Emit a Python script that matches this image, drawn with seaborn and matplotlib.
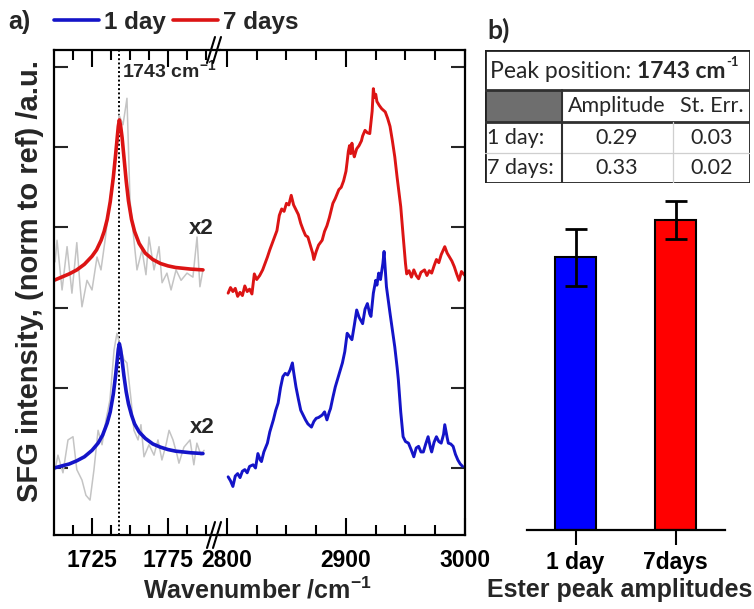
import numpy as np
import pandas as pd
import matplotlib
matplotlib.use("Agg")
import matplotlib.pyplot as plt
from matplotlib.lines import Line2D
from matplotlib.patches import Rectangle
import seaborn as sns

# ---------------- data ----------------
# C=O region (left segment): fitted curves
fit_wn_7days = [1700, 1705, 1710, 1715, 1720, 1725, 1728, 1731, 1733, 1735, 1737, 1739,
                1740.5, 1741.5, 1742.3, 1743, 1743.8, 1744.8, 1746, 1747.5, 1749, 1751,
                1753, 1756, 1760, 1765, 1770, 1775, 1780, 1790, 1798]
fit_7days = [2.34, 2.38, 2.42, 2.47, 2.54, 2.64, 2.72, 2.84, 2.95, 3.10, 3.32, 3.62,
             3.90, 4.10, 4.26, 4.34, 4.27, 4.12, 3.88, 3.58, 3.33, 3.10,
             2.95, 2.80, 2.68, 2.60, 2.55, 2.52, 2.50, 2.48, 2.47]
fit_wn_1day = [1700, 1704, 1710, 1715, 1720, 1725, 1729, 1732, 1735, 1737, 1739, 1740.5,
               1741.5, 1742.3, 1743, 1743.8, 1744.8, 1746, 1747.5, 1749, 1751, 1753,
               1756, 1760, 1765, 1770, 1775, 1780, 1790, 1798]
fit_1day = [0.00, 0.02, 0.05, 0.09, 0.14, 0.22, 0.31, 0.41, 0.56, 0.70, 0.92, 1.15,
            1.33, 1.48, 1.55, 1.48, 1.34, 1.15, 0.95, 0.80, 0.66, 0.55,
            0.45, 0.37, 0.30, 0.26, 0.23, 0.21, 0.19, 0.18]

# raw (grey) data, left segment
raw_wn_7days = [1700.7, 1702, 1705.3, 1708.6, 1711.8, 1715, 1717.1, 1718.4, 1721.7, 1725,
                1728.3, 1730.9, 1733.6, 1736.8, 1740.1, 1742.8, 1745.4, 1748, 1750, 1752.6,
                1754.6, 1757.9, 1760.5, 1762.5, 1765.8, 1769.1, 1771.1, 1774.3, 1777, 1780.3,
                1783.6, 1787.5, 1791.4, 1794.1, 1796, 1798]
raw_7days = [2.57, 2.84, 2.22, 2.76, 2.18, 2.81, 2.28, 2.01, 2.34, 2.22,
             2.63, 2.47, 2.84, 3.34, 3.84, 4.40, 4.28, 4.61, 3.34, 2.84,
             2.47, 2.72, 2.41, 2.88, 2.47, 2.76, 2.31, 2.43, 2.22, 2.47,
             2.34, 2.43, 2.38, 2.88, 2.26, 2.47]
raw_wn_1day = [1700.7, 1702.6, 1705.9, 1709.2, 1712.5, 1715, 1718.4, 1721, 1723.7, 1726.3,
               1729, 1731.6, 1734.2, 1736.8, 1739.5, 1741.4, 1743.4, 1746, 1748, 1750.7,
               1752.6, 1755.3, 1757.2, 1759.2, 1762.5, 1765.8, 1768.4, 1771, 1773.7, 1775.7,
               1778.3, 1781, 1782.2, 1785.5, 1789.5, 1792, 1794, 1796.7, 1798.7]
raw_1day = [-0.02, 0.16, -0.06, 0.35, 0.39, -0.02, -0.15, -0.34, -0.40, -0.02,
            0.47, 0.29, 0.60, 0.85, 1.47, 1.68, 1.53, 1.35, 1.31, 0.85,
            0.47, 0.35, 0.54, 0.14, 0.29, 0.16, 0.35, 0.10, 0.29, 0.47,
            0.35, 0.16, 0.06, 0.26, 0.35, 0.04, 0.31, 0.16, 0.22]

# CH region (right segment)
ch_wn_7days = [2801, 2803, 2805, 2807, 2809, 2811, 2813, 2815, 2817, 2819, 2821, 2823, 2825,
               2827.5, 2830, 2832, 2834, 2836, 2838, 2840, 2842, 2844, 2846, 2848, 2850,
               2852, 2854, 2856, 2858, 2860, 2862, 2864, 2866, 2868, 2870, 2872, 2873,
               2875, 2877, 2880, 2882, 2884, 2886, 2889, 2891, 2894, 2896, 2898, 2900,
               2901, 2902, 2903, 2904, 2905, 2906, 2907, 2909, 2911, 2913, 2914, 2916,
               2918, 2920, 2922, 2923, 2924, 2925, 2926, 2928, 2930, 2933, 2935, 2937,
               2939, 2941, 2943, 2946, 2948, 2950, 2951, 2953, 2955, 2957, 2959, 2961,
               2963, 2966, 2968, 2970, 2972, 2974, 2976, 2978, 2980, 2983, 2985, 2987,
               2989, 2991, 2993, 2995, 2997, 3000]
ch_7days = [2.18, 2.25, 2.20, 2.24, 2.14, 2.19, 2.15, 2.27, 2.20, 2.23, 2.17, 2.42, 2.35,
            2.40, 2.47, 2.55, 2.63, 2.72, 2.80, 2.88, 2.96, 3.15, 3.23, 3.20, 3.30,
            3.28, 3.40, 3.28, 3.22, 3.16, 3.05, 2.97, 2.90, 2.88, 2.78, 2.68, 2.60,
            2.70, 2.78, 2.84, 2.95, 3.02, 3.12, 3.30, 3.36, 3.47, 3.50, 3.58, 3.70,
            3.82, 3.95, 4.02, 3.92, 4.05, 3.94, 3.88, 3.98, 4.02, 4.08, 4.14, 4.21,
            4.18, 4.17, 4.45, 4.73, 4.62, 4.66, 4.57, 4.52, 4.48, 4.44, 4.36, 4.26,
            4.08, 3.88, 3.62, 3.26, 2.90, 2.55, 2.42, 2.46, 2.38, 2.47, 2.40, 2.36,
            2.44, 2.47, 2.40, 2.46, 2.43, 2.52, 2.60, 2.56, 2.66, 2.76, 2.68, 2.63,
            2.58, 2.51, 2.42, 2.34, 2.45, 2.40]
ch_wn_1day = [2801, 2803, 2805, 2807, 2809, 2811, 2813, 2815, 2817, 2819, 2822, 2824, 2826,
              2828, 2829, 2831, 2834, 2836, 2839, 2841, 2843, 2845, 2847, 2849, 2851,
              2853, 2855, 2856, 2858, 2860, 2862, 2864, 2866, 2868, 2871, 2873, 2875,
              2877, 2880, 2882, 2884, 2886, 2887, 2889, 2891, 2894, 2897, 2899, 2901,
              2903, 2905, 2907, 2909, 2911, 2914, 2916, 2918, 2920, 2921, 2923, 2925,
              2926, 2927.5, 2929, 2931, 2932, 2934, 2937, 2939, 2941, 2943, 2944, 2946,
              2948, 2950, 2952.5, 2955, 2957, 2959, 2961, 2963, 2965, 2967, 2969, 2971,
              2972, 2974, 2976, 2978, 2980, 2982, 2983, 2985, 2986, 2988, 2990, 2992,
              2994, 2996, 2998]
ch_1day = [-0.11, -0.16, -0.23, -0.10, -0.07, -0.12, -0.04, -0.02, -0.06, 0.02, 0.04, 0.00, 0.18,
           0.10, 0.08, 0.20, 0.31, 0.45, 0.60, 0.72, 0.81, 1.00, 1.14, 1.18, 1.16,
           1.22, 1.31, 1.20, 1.01, 0.86, 0.72, 0.66, 0.60, 0.55, 0.51, 0.58, 0.62,
           0.63, 0.66, 0.70, 0.60, 0.70, 0.74, 0.88, 1.01, 1.16, 1.31, 1.45, 1.68,
           1.64, 1.60, 1.78, 1.97, 1.88, 1.80, 1.98, 2.05, 1.92, 1.89, 2.18, 2.34,
           2.28, 2.43, 2.35, 2.55, 2.70, 2.26, 1.93, 1.72, 1.51, 1.25, 1.10, 0.70,
           0.39, 0.33, 0.31, 0.22, 0.14, 0.25, 0.27, 0.20, 0.20, 0.30, 0.39, 0.25,
           0.20, 0.32, 0.39, 0.33, 0.31, 0.42, 0.54, 0.38, 0.31, 0.30, 0.27, 0.17,
           0.10, 0.05, 0.02]

# panel b
bar_labels = ["1 day", "7days"]
amplitudes = [0.29, 0.33]
std_errors = [0.03, 0.02]
table_rows = ["1 day:", "7 days:"]
table_cols = ["Amplitude", "St. Err."]
peak_pos = "1743"

BLUE = "#1414c8"
RED = "#dc1414"
GREY = "#c4c4c4"

# ---------------- style ----------------
sns.set_style("white")
plt.rcParams["font.family"] = ["Liberation Sans", "DejaVu Sans"]
plt.rcParams["font.weight"] = "bold"
plt.rcParams["mathtext.fontset"] = "custom"
plt.rcParams["mathtext.rm"] = "Liberation Sans:bold"
plt.rcParams["mathtext.bf"] = "Liberation Sans:bold"
plt.rcParams["mathtext.default"] = "bf"

W, H = 754, 609
fig = plt.figure(figsize=(W / 100, H / 100), dpi=100)


def fx(px):
    return px / W


def fy(py):
    return 1 - py / H


AX_TOP, AX_BOT = 50, 535
axL = fig.add_axes([fx(54), fy(AX_BOT), (220 - 54) / W, (AX_BOT - AX_TOP) / H])
axR = fig.add_axes([fx(220), fy(AX_BOT), (465 - 220) / W, (AX_BOT - AX_TOP) / H])

ylo, yhi = (468 - AX_BOT) / 80.2, (468 - AX_TOP) / 80.2

# left segment
sns.lineplot(x=raw_wn_7days, y=raw_7days, ax=axL, color=GREY, lw=1.1, sort=False, estimator=None)
sns.lineplot(x=raw_wn_1day, y=raw_1day, ax=axL, color=GREY, lw=1.1, sort=False, estimator=None)
axL.axvline(1743, color="black", ls=(0, (1, 1.2)), lw=1.4, zorder=1)
sns.lineplot(x=fit_wn_7days, y=fit_7days, ax=axL, color=RED, lw=2.6, sort=False, estimator=None)
sns.lineplot(x=fit_wn_1day, y=fit_1day, ax=axL, color=BLUE, lw=2.6, sort=False, estimator=None)
axL.text(1744.5, 4.96, r"1743 cm$^{-1}$", fontsize=14, fontweight="bold", va="center", ha="left")
axL.text(1797, 2.99, "x2", fontsize=16, fontweight="bold", ha="center", va="center")
axL.text(1797.5, 0.51, "x2", fontsize=16, fontweight="bold", ha="center", va="center")

# right segment
sns.lineplot(x=ch_wn_7days, y=ch_7days, ax=axR, color=RED, lw=2.1, sort=False, estimator=None)
sns.lineplot(x=ch_wn_1day, y=ch_1day, ax=axR, color=BLUE, lw=2.1, sort=False, estimator=None)

axL.set_xlim(1700, 1700 + 166 / 1.52)
axR.set_xlim(2800 - 7 / 1.2, 3000)
for ax in (axL, axR):
    ax.set_ylim(ylo, yhi)
    ax.set_yticks(range(0, 6))
    ax.set_xlabel("")
    ax.set_ylabel("")
    for s in ax.spines.values():
        s.set_linewidth(1.6)
        s.set_color("black")
axL.spines["right"].set_visible(False)
axR.spines["left"].set_visible(False)

axL.set_xticks([1725, 1775])
axL.set_xticks([1712.5, 1737.5, 1750, 1762.5, 1787.5, 1800], minor=True)
axR.set_xticks([2800, 2900, 3000])
axR.set_xticks([2825, 2850, 2875, 2925, 2950, 2975], minor=True)
for ax in (axL, axR):
    ax.tick_params(axis="x", which="both", direction="in", top=True, bottom=True,
                   width=1.5, labelsize=16.5, pad=10, colors="black")
    ax.tick_params(axis="x", which="major", length=12)
    ax.tick_params(axis="x", which="minor", length=7)
    for lab in ax.get_xticklabels():
        lab.set_fontweight("bold")
axL.tick_params(axis="y", direction="in", left=True, right=False, labelleft=False,
                length=10, width=1.5)
axR.tick_params(axis="y", direction="in", left=False, right=True, labelleft=False,
                labelright=False, length=10, width=1.5)

# axis break marks
for ycen in (AX_TOP, AX_BOT):
    for x0 in (207, 213):
        fig.add_artist(Line2D([fx(x0), fx(x0 + 8)], [fy(ycen + 13), fy(ycen - 13)],
                              color="black", lw=1.5))

fig.text(fx(257), fy(590), r"Wavenumber /cm$^{-1}$", fontsize=18, fontweight="bold",
         ha="center", va="center")
fig.text(fx(30), fy(281), "SFG intensity, (norm to ref) /a.u.", fontsize=21,
         fontweight="bold", rotation=90, ha="center", va="center")
fig.text(fx(8), fy(22), "a)", fontsize=18, fontweight="bold", ha="left", va="center")

handles = [Line2D([], [], color=BLUE, lw=2.6), Line2D([], [], color=RED, lw=2.6)]
fig.legend(handles, ["1 day", "7 days"], loc="center left", bbox_to_anchor=(fx(54), fy(22)),
           ncol=2, frameon=False, prop={"weight": "bold", "size": 17.5},
           handlelength=1.85, handletextpad=0.2, columnspacing=0.3,
           borderpad=0, borderaxespad=0)

# ---------------- panel b ----------------
axB = fig.add_axes([fx(527), fy(530), (725 - 527) / W, (530 - 200) / H])
df = pd.DataFrame({"sample": bar_labels, "amp": amplitudes})
sns.barplot(data=df, x="sample", y="amp", hue="sample", palette=["#0000ff", "#ff0000"],
            width=0.41, edgecolor="black", linewidth=1.5, ax=axB, legend=False, saturation=1)
axB.errorbar([0, 1], amplitudes, yerr=std_errors, fmt="none", ecolor="black",
             elinewidth=2, capsize=8, capthick=2, zorder=5)
axB.set_xlim(-0.485, 1.495)
axB.set_ylim(0, 330 / 940)
axB.set_xlabel("")
axB.set_ylabel("")
axB.set_yticks([])
for s in ("left", "top", "right"):
    axB.spines[s].set_visible(False)
axB.spines["bottom"].set_linewidth(1.6)
axB.spines["bottom"].set_color("black")
axB.tick_params(axis="x", direction="out", bottom=True, length=11, width=1.5,
                labelsize=16.5, pad=4, colors="black")
for lab in axB.get_xticklabels():
    lab.set_fontweight("bold")
fig.text(fx(620), fy(590), "Ester peak amplitudes", fontsize=18, fontweight="bold",
         ha="center", va="center")

# table
TF = ["Lato", "DejaVu Sans"]
fig.text(fx(487), fy(30), "b)", fontsize=19, fontweight="bold", family=TF,
         ha="left", va="center")
axT = fig.add_axes([fx(485), fy(183), 265 / W, 133 / H])
axT.set_xlim(485, 750)
axT.set_ylim(183, 50)
axT.axis("off")
axT.add_patch(Rectangle((485, 90), 77, 32, facecolor="#6e6e6e", edgecolor="none"))
axT.add_patch(Rectangle((485, 50), 265, 133, facecolor="none", edgecolor="#202020", lw=2))
axT.plot([485, 750], [90, 90], color="#303030", lw=2)
axT.plot([485, 750], [122, 122], color="#303030", lw=2)
axT.plot([485, 750], [153, 153], color="#cfcfcf", lw=0.9)
axT.plot([562, 562], [90, 183], color="#303030", lw=1.5)
axT.plot([673, 673], [122, 183], color="#cfcfcf", lw=0.9)

TS = 15.5
TS_TITLE = 16.5
renderer = fig.canvas.get_renderer()
t1 = axT.text(490, 71, "Peak position: ", fontsize=TS_TITLE, family=TF, fontweight="normal",
              ha="left", va="center")
bb = t1.get_window_extent(renderer)
x_next = 485 + (bb.x1 - fx(485) * W)
t2 = axT.text(x_next, 71, peak_pos + " cm", fontsize=TS_TITLE, family=TF, fontweight="bold",
              ha="left", va="center")
bb2 = t2.get_window_extent(renderer)
x_sup = 485 + (bb2.x1 - fx(485) * W) + 1
axT.text(x_sup, 62, "-1", fontsize=9.5, family=TF, fontweight="bold", ha="left", va="center")
axT.text(617, 106, table_cols[0], fontsize=TS, family=TF, fontweight="normal",
         ha="center", va="center")
axT.text(712, 106, table_cols[1], fontsize=TS, family=TF, fontweight="normal",
         ha="center", va="center")
for i, (rl, a, e) in enumerate(zip(table_rows, amplitudes, std_errors)):
    yy = 138 + 30 * i
    axT.text(487, yy, rl, fontsize=TS, family=TF, fontweight="normal", ha="left", va="center")
    axT.text(617, yy, f"{a:.2f}", fontsize=TS, family=TF, fontweight="normal",
             ha="center", va="center")
    axT.text(712, yy, f"{e:.2f}", fontsize=TS, family=TF, fontweight="normal",
             ha="center", va="center")

fig.savefig("out.png", dpi=100)
